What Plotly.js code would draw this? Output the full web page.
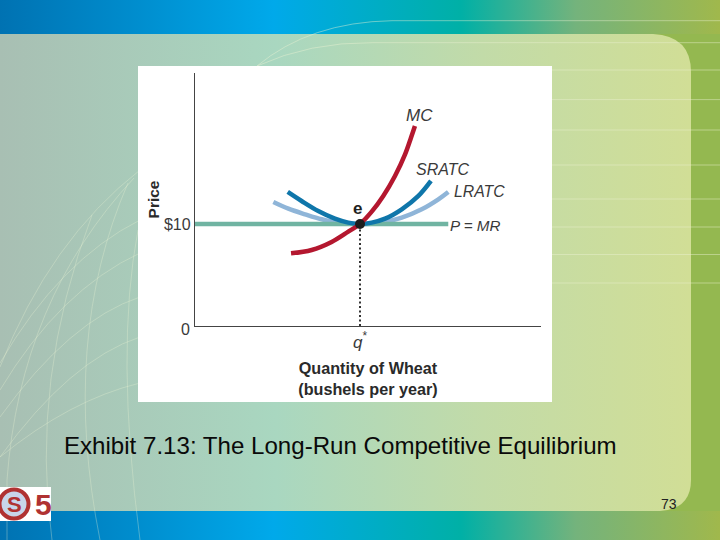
<!DOCTYPE html>
<html><head><meta charset="utf-8">
<script src="https://cdn.plot.ly/plotly-3.0.1.min.js"></script>
<style>
html,body{margin:0;padding:0;background:#94b850;overflow:hidden}
#bg{position:absolute;left:0;top:0}
#chart{position:absolute;left:0;top:0;width:720px;height:540px}
</style></head><body>
<svg id="bg" width="720" height="540" viewBox="0 0 720 540">
<defs>
<linearGradient id="band"><stop offset="0" stop-color="#0072b2"/><stop offset=".38" stop-color="#00a9ea"/><stop offset=".64" stop-color="#00b0a6"/><stop offset=".8" stop-color="#74b37c"/><stop offset="1" stop-color="#a0b84c"/></linearGradient>
<linearGradient id="panel" gradientUnits="userSpaceOnUse" x1="0" x2="690" y1="0" y2="0"><stop offset="0" stop-color="#a8bfb3"/><stop offset=".4" stop-color="#a9d7c0"/><stop offset=".7" stop-color="#c2dba8"/><stop offset="1" stop-color="#d1de96"/></linearGradient>
</defs>
<rect width="720" height="540" fill="#94b850"/>
<rect y="0" width="720" height="34" fill="url(#band)"/>
<rect y="511" width="720" height="29" fill="url(#band)"/>
<path d="M0 34H653Q691 36 691 72V480Q691 509 660 511H0Z" fill="url(#panel)"/>
<g fill="none" stroke="#eaf2d2" stroke-width="1">
<g stroke-opacity=".45">
<path d="M257 66Q310 22 392 20.7H720"/>
<path d="M257 66Q310 42 372 42.7H720"/>
<path d="M552 70H720M552 99.6H720M552 130H720M552 165H720M552 199H720M552 227H720M552 254.5H720M552 283H720"/>
</g>
<g stroke-opacity=".32">
<path d="M140 170Q50 240 0 367"/>
<path d="M134 178Q20 300 7 480V540"/>
<path d="M128 183Q60 340 100 540"/>
<path d="M138 230Q115 350 140 540"/>
<path d="M92 215Q30 380 52 540"/>
<path d="M140 220Q60 260 0 363"/>
<path d="M140 253Q60 290 0 390"/>
<path d="M140 297Q70 320 0 417"/>
<path d="M140 337Q70 360 0 457"/>
<path d="M140 383Q70 400 0 457"/>
</g>
</g>
<rect x="138" y="66" width="414" height="336" fill="#fff"/>
<rect x="0" y="487" width="51" height="34" fill="#fff"/>
<circle cx="14" cy="504" r="14.5" fill="#c8d5ea" stroke="#b03232" stroke-width="4"/>
</svg>
<div id="chart"></div>
<script>
var mcX = [5.82,7.07,8.28,9.29,10,10.71,11.41,12.12,12.73,13.09,13.33];
var mcY = [7.12,7.45,8.24,9.25,10,11.21,12.75,14.71,16.83,18.46,19.61];
var sratcX = [5.62,6.46,7.47,8.48,9.29,10,10.71,11.52,12.53,13.54,14.30];
var sratcY = [13.14,12.25,11.27,10.52,10.13,10,10.13,10.52,11.44,12.75,14.22];
var lratcX = [4.75,5.66,6.67,7.68,8.69,10,11.31,12.53,13.74,14.75,15.35];
var lratcY = [12.16,11.50,10.95,10.46,10.13,10,10.13,10.62,11.44,12.42,13.14];
var mrX = [0,15.35];
var mrY = [10,10];
var qStar = 10;
var priceStar = 10;

var L=194.7,T=73,R=540.7,B=326;
function px(x){return (x-L)/(R-L);}
function py(y){return (B-y)/(B-T);}
var sans='"Liberation Sans", Arial, sans-serif', ink='#3a3a3a';
function line(x,y,color,width,extra){
  return Object.assign({x:x,y:y,type:'scatter',mode:'lines',hoverinfo:'skip',
    line:{color:color,width:width,shape:'spline',smoothing:1}},extra||{});
}
var traces=[
  line(lratcX,lratcY,'#8fb5d8',4.5),
  line(mrX,mrY,'#70b4a2',4.5,{line:{color:'#70b4a2',width:4.5}}),
  line(sratcX,sratcY,'#0f76aa',4.5),
  line(mcX,mcY,'#b4172f',4.5),
  {x:[qStar,qStar],y:[0,priceStar],type:'scatter',mode:'lines',hoverinfo:'skip',line:{color:'#333',width:2,dash:'2px,2.5px'}},
  {x:[qStar],y:[priceStar],type:'scatter',mode:'markers',hoverinfo:'skip',marker:{color:'#1c1c1c',size:10}}
];
function lab(t,x,y,size,extra){
  return Object.assign({text:t,x:x,y:y,xref:'x',yref:'y',showarrow:false,xanchor:'center',yanchor:'middle',
    font:{family:sans,size:size,color:ink}},extra||{});
}
function pageText(t,x,y,font,anchor){
  return {text:t,x:px(x),y:py(y),xref:'paper',yref:'paper',showarrow:false,xanchor:anchor||'left',yanchor:'middle',font:font};
}
var layout={
  width:720,height:540,showlegend:false,hovermode:false,
  paper_bgcolor:'rgba(0,0,0,0)',plot_bgcolor:'rgba(0,0,0,0)',
  margin:{l:L,r:720-R,t:T,b:540-B,pad:0},
  font:{family:sans,color:ink},
  xaxis:{range:[0,20.97],showgrid:false,zeroline:false,showline:true,linecolor:'#444',linewidth:1.2,
    tickmode:'array',tickvals:[qStar],ticktext:['<i>q</i><sup>*</sup>'],ticks:'',ticklen:0,
    tickfont:{family:sans,size:17,color:ink},
    title:{text:'<b>Quantity of Wheat<br>(bushels per year)</b>',standoff:12,font:{family:sans,size:16.2,color:'#2a2a2a'}}},
  yaxis:{range:[0,24.8],showgrid:false,zeroline:false,showline:true,linecolor:'#444',linewidth:1.2,
    tickmode:'array',tickvals:[priceStar],ticktext:['$10'],ticks:'',ticklen:0,
    tickfont:{family:sans,size:16,color:ink},
    title:{text:'<b>Price</b>',standoff:0,font:{family:sans,size:15.5,color:'#2a2a2a'}}},
  annotations:[
    lab('<i>MC</i>',13.58,20.65,17),
    lab('<i>SRATC</i>',14.97,15.36,16),
    lab('<i>LRATC</i>',17.27,13.23,15.8),
    lab('<i>P = MR</i>',16.97,9.9,15.2),
    lab('<b>e</b>',9.84,11.54,17,{font:{family:sans,size:17,color:'#222'}}),
    pageText('0',185,329,{family:sans,size:16,color:ink},'center'),
    pageText('Exhibit 7.13: The Long-Run Competitive Equilibrium',62,445,{family:sans,size:24.1,color:'#0a0a0a'}),
    pageText('73',668.5,504,{family:sans,size:14,color:'#222'},'center'),
    pageText('<b>S</b>',14,504,{family:sans,size:22,color:'#b03232'},'center'),
    pageText('<b>5</b>',43.5,504,{family:sans,size:30,color:'#b03232'},'center')
  ]
};
Plotly.newPlot('chart',traces,layout,{displayModeBar:false,staticPlot:true});
</script>
</body></html>
